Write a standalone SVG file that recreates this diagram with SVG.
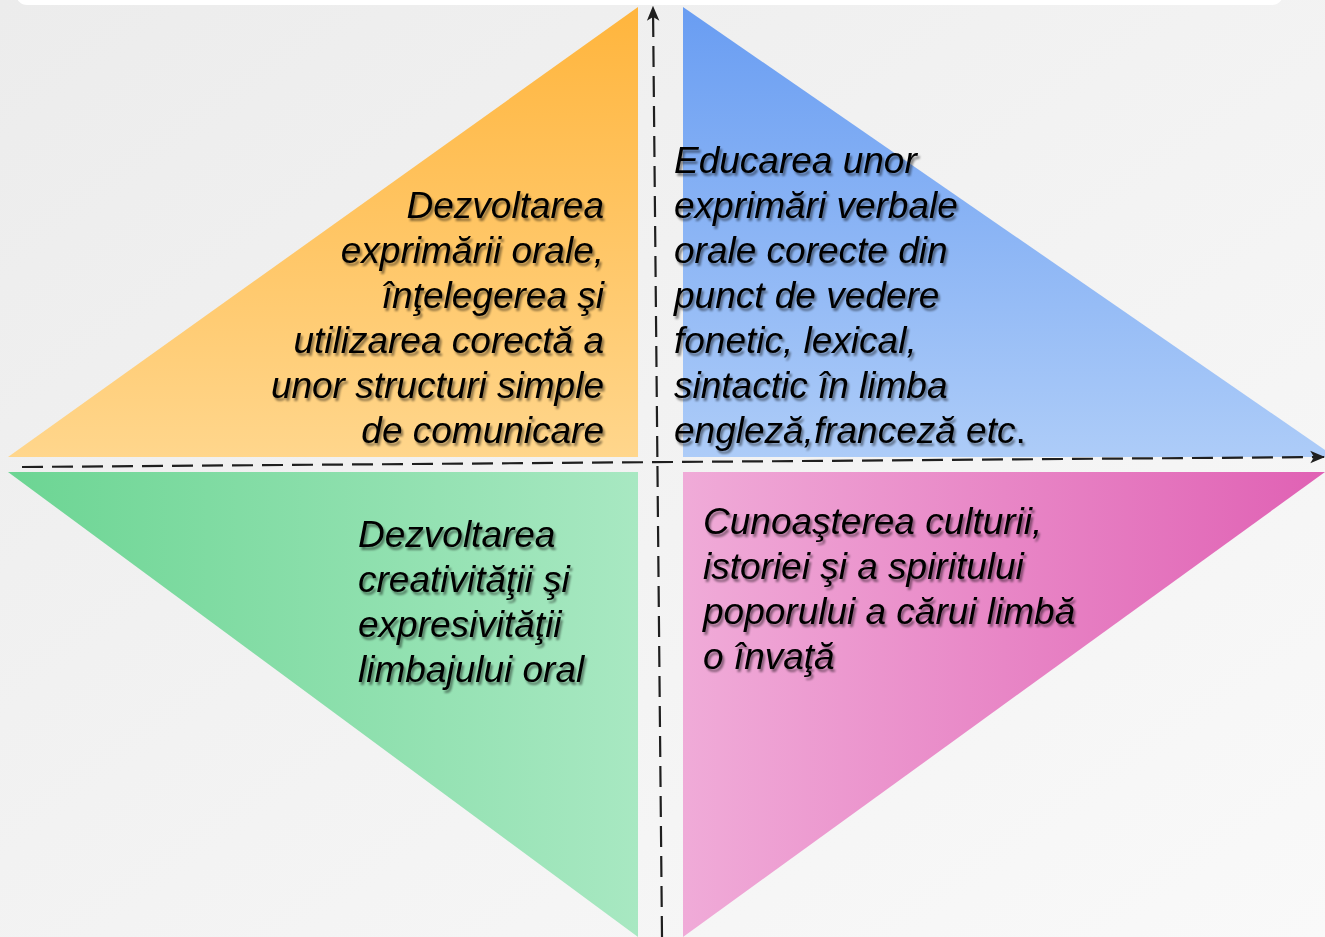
<svg xmlns="http://www.w3.org/2000/svg" width="1325" height="937" viewBox="0 0 1325 937">
  <defs>
    <linearGradient id="bg" x1="0" y1="0" x2="1" y2="1">
      <stop offset="0" stop-color="#ECECEC"/>
      <stop offset="1" stop-color="#F9F9F9"/>
    </linearGradient>
    <linearGradient id="gOrange" x1="0" y1="0" x2="0" y2="1">
      <stop offset="0" stop-color="#FFB53D"/>
      <stop offset="1" stop-color="#FFD68C"/>
    </linearGradient>
    <linearGradient id="gBlue" x1="0" y1="0" x2="0" y2="1">
      <stop offset="0" stop-color="#699DF2"/>
      <stop offset="1" stop-color="#ADCCF8"/>
    </linearGradient>
    <linearGradient id="gGreen" x1="0" y1="0" x2="1" y2="0">
      <stop offset="0" stop-color="#6CD593"/>
      <stop offset="1" stop-color="#A8E8C2"/>
    </linearGradient>
    <linearGradient id="gPink" x1="0" y1="0" x2="1" y2="0">
      <stop offset="0" stop-color="#F0ABD8"/>
      <stop offset="1" stop-color="#E061B4"/>
    </linearGradient>
    <filter id="shadow" x="-10%" y="-10%" width="120%" height="130%">
      <feGaussianBlur in="SourceAlpha" stdDeviation="1.3"/>
      <feOffset dx="2" dy="2.5" result="b"/>
      <feComponentTransfer><feFuncA type="linear" slope="0.45"/></feComponentTransfer>
      <feMerge><feMergeNode/><feMergeNode in="SourceGraphic"/></feMerge>
    </filter>
    <marker id="arrow" viewBox="0 0 12 12" refX="11" refY="6" markerWidth="15" markerHeight="15" markerUnits="userSpaceOnUse" orient="auto">
      <path d="M0,1 L12,6 L0,11 L3,6 Z" fill="#1F1F1F"/>
    </marker>
    <style>
      .lbl { font-family: "Liberation Sans", Arial, sans-serif; font-style: italic; font-size: 37px; fill: #000; filter: url(#shadow); }
      .axis { stroke: #1F1F1F; stroke-width: 2.2; fill: none; stroke-dasharray: 21 9; marker-end: url(#arrow); }
    </style>
  </defs>

  <rect x="0" y="0" width="1325" height="937" fill="url(#bg)"/>
  <rect x="16" y="-30" width="1267" height="35" rx="11" fill="#FFFFFF"/>

  <g id="node-top-left">
    <polygon points="638,7 638,457 8,457" fill="url(#gOrange)"/>
    <text class="lbl" text-anchor="end"><tspan x="604" y="218">Dezvoltarea</tspan><tspan x="604" y="263">exprimării orale,</tspan><tspan x="604" y="308">înţelegerea şi</tspan><tspan x="604" y="353">utilizarea corectă a</tspan><tspan x="604" y="398">unor structuri simple</tspan><tspan x="604" y="443">de comunicare</tspan></text>
  </g>

  <g id="node-top-right">
    <polygon points="683,7 683,457 1325,457 1325,450" fill="url(#gBlue)"/>
    <text class="lbl"><tspan x="674" y="173">Educarea unor</tspan><tspan x="674" y="218">exprimări verbale</tspan><tspan x="674" y="263">orale corecte din</tspan><tspan x="674" y="308">punct de vedere</tspan><tspan x="674" y="353">fonetic, lexical,</tspan><tspan x="674" y="398">sintactic în limba</tspan><tspan x="674" y="443">engleză,franceză etc<tspan font-style="normal">.</tspan></tspan></text>
  </g>

  <g id="node-bottom-left">
    <polygon points="8,472 638,472 638,937" fill="url(#gGreen)"/>
    <text class="lbl"><tspan x="358" y="547">Dezvoltarea</tspan><tspan x="358" y="592">creativităţii şi</tspan><tspan x="358" y="637">expresivităţii</tspan><tspan x="358" y="682">limbajului oral</tspan></text>
  </g>

  <g id="node-bottom-right">
    <polygon points="683,472 1325,472 683,937" fill="url(#gPink)"/>
    <text class="lbl"><tspan x="703" y="534">Cunoaşterea culturii,</tspan><tspan x="703" y="579">istoriei şi a spiritului</tspan><tspan x="703" y="624">poporului a cărui limbă</tspan><tspan x="703" y="669">o învaţă</tspan></text>
  </g>

  <g id="connectors">
    <line class="axis" x1="662" y1="937" x2="653" y2="7"/>
    <line class="axis" x1="22" y1="467" x2="1324" y2="457"/>
  </g>
</svg>
